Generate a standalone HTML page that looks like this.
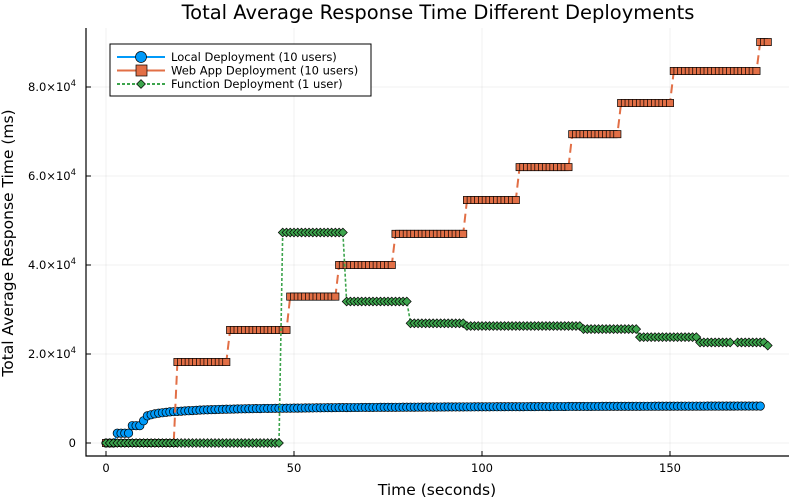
<!DOCTYPE html>
<html><head><meta charset="utf-8"><style>
body{margin:0;background:#fff;}
svg{display:block;font-family:"DejaVu Sans","Liberation Sans",sans-serif;}
</style></head><body>
<svg id="chart" width="800" height="500" viewBox="0 0 800 500" xmlns="http://www.w3.org/2000/svg">
<rect width="800" height="500" fill="#fff"/>
<g id="grid"></g><g id="axes"></g><g id="series"></g><g id="legend"></g>
<text x="438" y="19" text-anchor="middle" font-size="19.5" fill="#000">Total Average Response Time Different Deployments</text>
<text x="437" y="495" text-anchor="middle" font-size="15.5">Time (seconds)</text>
<text transform="translate(13,243) rotate(-90)" text-anchor="middle" font-size="15.5">Total Average Response Time (ms)</text>
</svg>
<script>
const xTicks=[0,50,100,150];
const yTicks=[0,20000,40000,60000,80000];
const yTickMant=["0","2.0","4.0","6.0","8.0"];
const localValues=[0,0,0,2200,2200,2200,2200,3900,3900,3900,5000,6100,6350,6550,6700,6800,6900,7000,7050,7100,7150,7200,7250,7300,7350,7400,7430,7460,7490,7520,7550,7570,7590,7610,7630,7650,7670,7690,7700,7720,7740,7750,7760,7770,7780,7790,7800,7810,7820,7830,7840,7850,7860,7870,7880,7890,7900,7910,7920,7930,7940,7950,7955,7960,7965,7970,7975,7980,7985,7990,7995,8000,8005,8010,8015,8020,8025,8030,8035,8040,8045,8050,8055,8060,8065,8070,8075,8080,8085,8090,8095,8100,8100,8105,8110,8115,8120,8120,8125,8130,8135,8140,8140,8145,8150,8150,8155,8160,8160,8165,8170,8170,8175,8180,8180,8185,8190,8190,8195,8200,8200,8200,8205,8210,8210,8215,8220,8220,8225,8225,8230,8230,8235,8235,8240,8240,8245,8245,8250,8250,8250,8255,8255,8260,8260,8260,8265,8265,8270,8270,8270,8275,8275,8275,8280,8280,8280,8285,8285,8285,8290,8290,8290,8290,8295,8295,8295,8295,8300,8300,8300,8300,8300,8300,8300];
const webStepStarts=[0,19,33,49,62,77,96,110,124,137,151,174];
const webStepValues=[0,18200,25400,32900,40000,47000,54600,62000,69400,76400,83600,90100];
const webEnd=176;
const funcStepStarts=[0,47,64,81,96,127,142,158,168,176];
const funcStepValues=[0,47300,31800,26900,26300,25600,23800,22600,22600,21900];
const funcEnd=176;
const funcMissing=[167];

const X0=106,XS=3.76,Y0=443,YS=0.00445;
const sx=v=>X0+v*XS, sy=v=>Y0-v*YS;
const NS="http://www.w3.org/2000/svg";
function mk(tag,attrs,parent){const e=document.createElementNS(NS,tag);for(const k in attrs)e.setAttribute(k,attrs[k]);parent.appendChild(e);return e;}
const grid=document.getElementById('grid'),axes=document.getElementById('axes'),series=document.getElementById('series'),legend=document.getElementById('legend');
const PL=86,PR=789,PT=28,PB=456;
xTicks.forEach(t=>{
  const g=mk('line',{x1:sx(t),x2:sx(t),y1:PT,y2:PB,stroke:'#000','stroke-opacity':0.1,'stroke-width':0.6},grid);
  
  
  const tk=mk('line',{x1:sx(t),x2:sx(t),y1:PB,y2:PB-5,stroke:'#000','stroke-width':1},axes);
  
  
  const l=mk('text',{x:sx(t),y:PB+16,'text-anchor':'middle','font-size':11.5},axes);
  l.textContent=t;
  
  
});
yTicks.forEach((t,i)=>{
  const g=mk('line',{x1:PL,x2:PR,y1:sy(t),y2:sy(t),stroke:'#000','stroke-opacity':0.1,'stroke-width':0.6},grid);
  
  
  const tk=mk('line',{x1:PL,x2:PL+5,y1:sy(t),y2:sy(t),stroke:'#000','stroke-width':1},axes);
  
  
  const l=mk('text',{x:76,y:sy(t)+4,'text-anchor':'end','font-size':11.5},axes);
  if(t===0){l.textContent='0';}
  else{l.textContent=yTickMant[i]+'×10';const s=mk('tspan',{'font-size':8.5,dy:-5},l);s.textContent='4';}
  
  
});
const ax=mk('path',{d:`M${PL},${PT} V${PB} H${PR}`,fill:'none',stroke:'#000','stroke-width':1.2},axes);



function stepSeries(starts,vals,end,missing){const pts=[];for(let x=0;x<=end;x++){if(missing&&missing.includes(x))continue;let v=vals[0];for(let i=0;i<starts.length;i++)if(x>=starts[i])v=vals[i];pts.push([x,v]);}return pts;}
const localPts=localValues.map((v,i)=>[i,v]);
const webPts=stepSeries(webStepStarts,webStepValues,webEnd);
const funcPts=stepSeries(funcStepStarts,funcStepValues,funcEnd,funcMissing);

function marker(type,cx,cy,fill,parent){
  if(type==='circle')return mk('circle',{cx,cy,r:4.2,fill,stroke:'#000','stroke-width':0.7},parent);
  if(type==='square')return mk('rect',{x:cx-3.6,y:cy-3.6,width:7.2,height:7.2,fill,stroke:'#000','stroke-width':0.7},parent);
  return mk('path',{d:`M${cx},${cy-4.4}L${cx+4.4},${cy}L${cx},${cy+4.4}L${cx-4.4},${cy}Z`,fill,stroke:'#000','stroke-width':0.7},parent);
}
function draw(pts,color,dash,width,type,name){
  const g=mk('g',{},series);
  
  
  const p=mk('path',{d:pts.map((q,i)=>(i?'L':'M')+sx(q[0]).toFixed(1)+','+sy(q[1]).toFixed(1)).join(''),fill:'none',stroke:color,'stroke-width':width,'stroke-dasharray':dash},g);
  
  
  pts.forEach(q=>{const m=marker(type,sx(q[0]),sy(q[1]),color,g);
    
    });
}
draw(localPts,'#009af9','none',1.5,'circle','local-series');
draw(webPts,'#e26f46','9,5',2,'square','webapp-series');
draw(funcPts,'#3da44d','3,2',1.6,'diamond','function-series');

const lb=mk('rect',{x:110,y:44,width:261,height:52,fill:'#fff',stroke:'#000','stroke-width':1},legend);


const entries=[['Local Deployment (10 users)','#009af9','none','circle'],['Web App Deployment (10 users)','#e26f46','none','square'],['Function Deployment (1 user)','#3da44d','3,2','diamond']];
entries.forEach((e,i)=>{
  const y=57+i*13.5;
  const g=mk('g',{},legend);
  
  
  mk('line',{x1:117,x2:165,y1:y,y2:y,stroke:e[1],'stroke-width':2,'stroke-dasharray':e[2]},g);
  const m=marker(e[3],141,y,e[1],g);
  if(e[3]==='circle')m.setAttribute('r',5.5);
  if(e[3]==='square'){m.setAttribute('x',136);m.setAttribute('y',y-5.5);m.setAttribute('width',11);m.setAttribute('height',11);}
  const t=mk('text',{x:171,y:y+4,'font-size':11.5},g);
  t.textContent=e[0];
});
</script>
</body></html>
